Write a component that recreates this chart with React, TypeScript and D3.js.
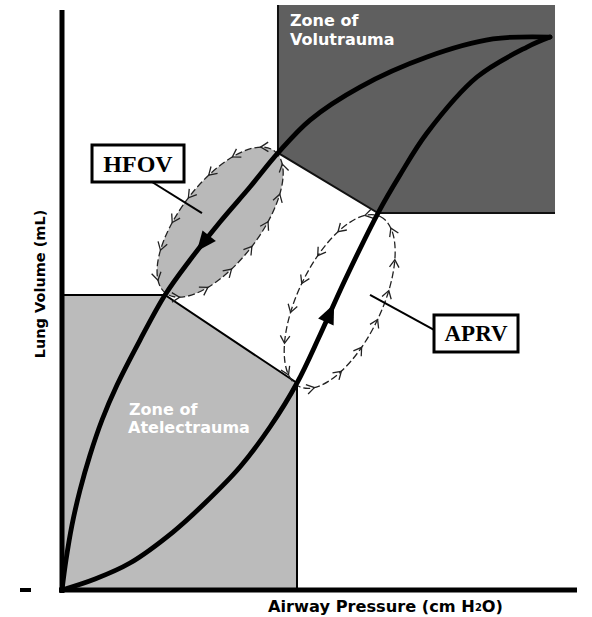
import React from 'react';
import * as d3 from 'd3';

const W = 592;
const H = 617;

// pressure (0-100, arbitrary units), volume (0-100, arbitrary units)
const pressureDomain: [number, number] = [0, 100];
const volumeDomain: [number, number] = [0, 100];

// Deflation limb (upper curve)
const deflationCurve: [number, number][] = [
  [0, 0], [0.78, 5.19], [1.94, 11.25], [3.5, 17.3], [5.44, 23.36], [7.77, 29.41],
  [10.68, 35.47], [15.15, 43.25], [20.0, 51.04], [24.85, 57.09], [30.68, 63.67],
  [36.5, 69.72], [41.94, 75.61], [48.16, 81.31], [57.86, 87.02], [70.87, 92.21],
  [83.69, 95.33], [94.76, 95.67],
];

// Inflation limb (lower curve)
const inflationCurve: [number, number][] = [
  [0, 0], [6.41, 1.9], [13.2, 4.67], [21.55, 10.03], [27.77, 15.05],
  [34.56, 21.28], [40.39, 28.2], [45.63, 35.81], [50.1, 44.12], [54.95, 53.63],
  [61.36, 65.22], [65.63, 71.8], [70.87, 79.07], [80.58, 88.75], [90.29, 93.94],
  [94.76, 95.67],
];

const atelectraumaZone: [number, number][] = [
  [0, 51.04], [20.0, 51.04], [45.63, 35.81], [45.63, 0], [0, 0],
];
const atelectraumaEdge: [number, number][] = [
  [0, 51.04], [20.0, 51.04], [45.63, 35.81], [45.63, 0],
];
const volutraumaZone: [number, number][] = [
  [41.94, 101.2], [95.73, 101.2], [95.73, 65.22], [61.36, 65.22], [41.94, 75.61],
];
const volutraumaEdge: [number, number][] = [
  [41.94, 101.2], [41.94, 75.61], [61.36, 65.22], [95.73, 65.22],
];

const hfovLoopEnds: [number, number][] = [[20.58, 51.04], [41.75, 75.61]];
const aprvLoopEnds: [number, number][] = [[45.44, 35.47], [61.17, 64.88]];

const hfovArrowAt = 27.38; // pressure on deflation limb
const aprvArrowAt = 52.04; // pressure on inflation limb

const hfovBoxAt: [number, number] = [14.76, 73.79];
const hfovLeaderTo: [number, number] = [27.18, 65.22];
const aprvBoxAt: [number, number] = [80.39, 44.38];
const aprvLeaderTo: [number, number] = [59.81, 51.04];

const zoneLabels = {
  volutrauma: ['Zone of', 'Volutrauma'],
  atelectrauma: ['Zone of', 'Atelectrauma'],
};

const x = d3.scaleLinear().domain(pressureDomain).range([62, 577]);
const y = d3.scaleLinear().domain(volumeDomain).range([590, 12]);

const line = d3
  .line<[number, number]>()
  .x((d) => x(d[0]))
  .y((d) => y(d[1]))
  .curve(d3.curveCatmullRom.alpha(0.5));

const poly = d3
  .line<[number, number]>()
  .x((d) => x(d[0]))
  .y((d) => y(d[1]));

function loopGeom(ends: [number, number][], offset: number, b: number, extend: number) {
  const p1 = [x(ends[0][0]), y(ends[0][1])];
  const p2 = [x(ends[1][0]), y(ends[1][1])];
  const dx = p2[0] - p1[0];
  const dy = p2[1] - p1[1];
  const len = Math.hypot(dx, dy);
  const u = [dx / len, dy / len]; // toward top end
  const v = [-u[1], u[0]];
  const vv = v[0] < 0 ? [-v[0], -v[1]] : v;
  const cx = (p1[0] + p2[0]) / 2 + offset * vv[0];
  const cy = (p1[1] + p2[1]) / 2 + offset * vv[1];
  const a = len / 2 + extend;
  const angle = (Math.atan2(u[1], u[0]) * 180) / Math.PI;
  const N = 600;
  const pts: { p: number[]; d: number[] }[] = [];
  for (let i = 0; i <= N; i++) {
    const t = (i / N) * Math.PI * 2;
    const px = cx + a * Math.cos(t) * u[0] + b * Math.sin(t) * vv[0];
    const py = cy + a * Math.cos(t) * u[1] + b * Math.sin(t) * vv[1];
    const tx = -a * Math.sin(t) * u[0] + b * Math.cos(t) * vv[0];
    const ty = -a * Math.sin(t) * u[1] + b * Math.cos(t) * vv[1];
    const tl = Math.hypot(tx, ty);
    pts.push({ p: [px, py], d: [-tx / tl, -ty / tl] });
  }
  const cum = [0];
  for (let i = 1; i <= N; i++) {
    cum.push(cum[i - 1] + Math.hypot(pts[i].p[0] - pts[i - 1].p[0], pts[i].p[1] - pts[i - 1].p[1]));
  }
  const L = cum[N];
  const count = 14;
  const chevrons: string[] = [];
  const arm = 9;
  const ang = (32 * Math.PI) / 180;
  for (let k = 0; k < count; k++) {
    const s = ((k + 0.5) / count) * L;
    let i = 0;
    while (i < N && cum[i] < s) i++;
    const { p, d } = pts[i];
    const bx = -d[0];
    const by = -d[1];
    const r1 = [bx * Math.cos(ang) - by * Math.sin(ang), bx * Math.sin(ang) + by * Math.cos(ang)];
    const r2 = [bx * Math.cos(-ang) - by * Math.sin(-ang), bx * Math.sin(-ang) + by * Math.cos(-ang)];
    chevrons.push(
      `M${p[0] + arm * r1[0]},${p[1] + arm * r1[1]}L${p[0]},${p[1]}L${p[0] + arm * r2[0]},${p[1] + arm * r2[1]}`
    );
  }
  return { cx, cy, a, b, angle, chevrons };
}

function arrowOn(curve: [number, number][], at: number, forward: boolean) {
  let i = 0;
  while (i < curve.length - 2 && curve[i + 1][0] < at) i++;
  const a = curve[i];
  const b = curve[i + 1];
  const f = (at - a[0]) / (b[0] - a[0]);
  const cx = x(a[0] + f * (b[0] - a[0]));
  const cy = y(a[1] + f * (b[1] - a[1]));
  let dx = x(b[0]) - x(a[0]);
  let dy = y(b[1]) - y(a[1]);
  if (!forward) {
    dx = -dx;
    dy = -dy;
  }
  const l = Math.hypot(dx, dy);
  const u = [dx / l, dy / l];
  const n = [-u[1], u[0]];
  const len = 20;
  const hw = 8.5;
  const tip = [cx + (u[0] * len) / 2, cy + (u[1] * len) / 2];
  const b1 = [cx - (u[0] * len) / 2 + n[0] * hw, cy - (u[1] * len) / 2 + n[1] * hw];
  const b2 = [cx - (u[0] * len) / 2 - n[0] * hw, cy - (u[1] * len) / 2 - n[1] * hw];
  return `M${tip[0]},${tip[1]}L${b1[0]},${b1[1]}L${b2[0]},${b2[1]}Z`;
}

const sans = '"DejaVu Sans", Verdana, sans-serif';
const serif = '"Liberation Serif", "Times New Roman", serif';

export default function App() {
  const hfov = loopGeom(hfovLoopEnds, -3, 40, 0);
  const aprv = loopGeom(aprvLoopEnds, 3.5, 42, 0);

  const hb = { w: 92, h: 37, cx: x(hfovBoxAt[0]), cy: y(hfovBoxAt[1]) };
  const ab = { w: 84, h: 37, cx: x(aprvBoxAt[0]), cy: y(aprvBoxAt[1]) };

  const volX = x(volutraumaZone[0][0]);
  const volY = y(volutraumaZone[0][1]);
  const atX = x(0);
  const atY = y(atelectraumaZone[0][1]);

  const loopStroke = '#222';

  return (
    <div style={{ position: 'absolute', left: 0, top: 0 }}>
      <svg width={W} height={H} viewBox={`0 0 ${W} ${H}`} style={{ display: 'block', background: '#fff' }}>
        {/* zones */}
        <path d={poly(atelectraumaZone) + 'Z'} fill="#bbbbbb" />
        <path d={poly(volutraumaZone) + 'Z'} fill="#5f5f5f" />
        <path d={poly(atelectraumaEdge) || ''} fill="none" stroke="#000" strokeWidth={2} />
        <path d={poly(volutraumaEdge) || ''} fill="none" stroke="#111" strokeWidth={2} />

        {/* HFOV loop */}
        <g>
          <ellipse
            cx={hfov.cx}
            cy={hfov.cy}
            rx={hfov.a}
            ry={hfov.b}
            transform={`rotate(${hfov.angle} ${hfov.cx} ${hfov.cy})`}
            fill="#b9b9b9"
            stroke={loopStroke}
            strokeWidth={1.3}
            strokeDasharray="7 3"
          />
          {hfov.chevrons.map((d, i) => (
            <path key={i} d={d} fill="none" stroke={loopStroke} strokeWidth={1.3} />
          ))}
        </g>

        {/* APRV loop */}
        <g>
          <ellipse
            cx={aprv.cx}
            cy={aprv.cy}
            rx={aprv.a}
            ry={aprv.b}
            transform={`rotate(${aprv.angle} ${aprv.cx} ${aprv.cy})`}
            fill="none"
            stroke={loopStroke}
            strokeWidth={1.3}
            strokeDasharray="7 3"
          />
          {aprv.chevrons.map((d, i) => (
            <path key={i} d={d} fill="none" stroke={loopStroke} strokeWidth={1.3} />
          ))}
        </g>

        {/* P-V curves */}
        <path d={line(deflationCurve) || ''} fill="none" stroke="#000" strokeWidth={4.8} strokeLinecap="round" />
        <path d={line(inflationCurve) || ''} fill="none" stroke="#000" strokeWidth={4.8} strokeLinecap="round" />
        <path d={arrowOn(deflationCurve, hfovArrowAt, false)} fill="#000" />
        <path d={arrowOn(inflationCurve, aprvArrowAt, true)} fill="#000" />

        {/* zone labels */}
        <text x={volX + 12} y={volY + 21} fill="#fff" fontFamily={sans} fontWeight="bold" fontSize={16}>
          {zoneLabels.volutrauma[0]}
        </text>
        <text x={volX + 12} y={volY + 40} fill="#fff" fontFamily={sans} fontWeight="bold" fontSize={16}>
          {zoneLabels.volutrauma[1]}
        </text>
        <text x={atX + 67} y={atY + 120} fill="#fff" fontFamily={sans} fontWeight="bold" fontSize={16}>
          {zoneLabels.atelectrauma[0]}
        </text>
        <text x={atX + 66} y={atY + 138} fill="#fff" fontFamily={sans} fontWeight="bold" fontSize={16}>
          {zoneLabels.atelectrauma[1]}
        </text>

        {/* HFOV callout */}
        <line x1={hb.cx + 14} y1={hb.cy + hb.h / 2} x2={x(hfovLeaderTo[0])} y2={y(hfovLeaderTo[1])} stroke="#000" strokeWidth={2} />
        <rect x={hb.cx - hb.w / 2} y={hb.cy - hb.h / 2} width={hb.w} height={hb.h} fill="#fff" stroke="#000" strokeWidth={3} />
        <text x={hb.cx} y={hb.cy + 8.5} textAnchor="middle" fontFamily={serif} fontWeight="bold" fontSize={24}>
          HFOV
        </text>

        {/* APRV callout */}
        <line x1={ab.cx - ab.w / 2} y1={ab.cy - 3.5} x2={x(aprvLeaderTo[0])} y2={y(aprvLeaderTo[1])} stroke="#000" strokeWidth={2} />
        <rect x={ab.cx - ab.w / 2} y={ab.cy - ab.h / 2} width={ab.w} height={ab.h} fill="#fff" stroke="#000" strokeWidth={3} />
        <text x={ab.cx} y={ab.cy + 8} textAnchor="middle" fontFamily={serif} fontWeight="bold" fontSize={23}>
          APRV
        </text>

        {/* axes */}
        <line x1={x(0)} y1={y(0) + 3} x2={x(0)} y2={y(100) - 2} stroke="#000" strokeWidth={5} />
        <line x1={x(0) - 3} y1={y(0)} x2={x(100)} y2={y(0)} stroke="#000" strokeWidth={5} />
        <line x1={20} y1={y(0)} x2={31} y2={y(0)} stroke="#000" strokeWidth={4} />

        <text x={268} y={612} fontFamily={sans} fontWeight="bold" fontSize={16.2}>
          Airway Pressure (cm H
          <tspan fontSize={10} dy={-1}>2</tspan>
          <tspan dy={1}>O)</tspan>
        </text>
        <text
          transform={`translate(45, 284) rotate(-90)`}
          textAnchor="middle"
          fontFamily={sans}
          fontWeight="bold"
          fontSize={14.5}
        >
          Lung Volume (mL)
        </text>
      </svg>
    </div>
  );
}
